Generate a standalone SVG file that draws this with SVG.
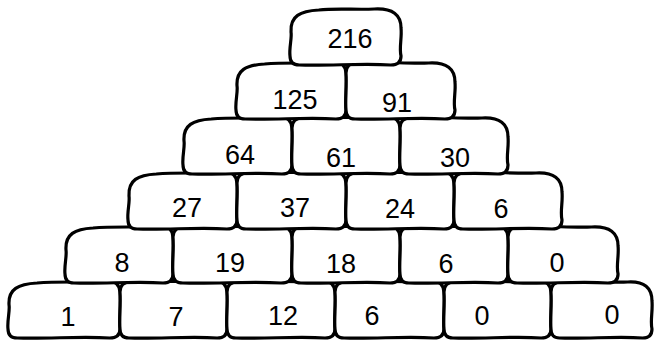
<svg xmlns="http://www.w3.org/2000/svg" xmlns:xlink="http://www.w3.org/1999/xlink" width="654" height="340" viewBox="0 0 654 340">
<style>
.st{fill:#fff;stroke:#000;stroke-width:3.2;stroke-linejoin:round;vector-effect:non-scaling-stroke}
text{font-family:"Liberation Sans",Arial,sans-serif;font-size:27px;fill:#000;text-anchor:middle}
</style>
<defs>
<path id="L" class="st" d="M 0,48 C -1,40 2,30 1,24 C 0,8 10,3 28,2 C 50,0 75,2 97,0 Q 107,0 108,11 C 109,24 107,38 108,48 Q 108,57 98,57 C 70,55 40,58 9,57 Q 0,57 0,48 Z"/>
<path id="M" class="st" d="M 0,48 C -1,38 1,24 0,11 Q 0,1 11,1 C 40,-1 70,2 97,0 Q 107,0 108,11 C 109,24 107,38 108,48 Q 108,57 98,57 C 70,55 40,58 9,57 Q 0,57 0,48 Z"/>
<path id="R" class="st" d="M 0,48 C -1,38 1,24 0,11 Q 0,1 11,1 C 35,-1 60,2 82,1 C 100,0 108,7 108,20 C 109,30 106,40 108,48 Q 108,57 98,57 C 70,55 40,58 9,57 Q 0,57 0,48 Z"/>
<path id="S" class="st" d="M 0,48 C -1,40 2,30 1,24 C 0,8 10,3 28,2 C 45,0 65,2 82,1 C 100,0 108,7 108,20 C 109,30 106,40 108,48 Q 108,57 98,57 C 70,55 40,58 9,57 Q 0,57 0,48 Z"/>
</defs>
<!-- row 6 -->
<g id="r6a"><use href="#L" transform="translate(8,281) scale(1.037,1)"/><text x="68" y="326">1</text></g>
<g id="r6b"><use href="#M" transform="translate(120,281) scale(0.991,1)"/><text x="176" y="326">7</text></g>
<g id="r6c"><use href="#M" transform="translate(227,281) scale(1,1)"/><text x="283" y="325">12</text></g>
<g id="r6d"><use href="#M" transform="translate(335,281) scale(1.009,1)"/><text x="372" y="325">6</text></g>
<g id="r6e"><use href="#M" transform="translate(444,281) scale(0.991,1)"/><text x="482" y="325">0</text></g>
<g id="r6f"><use href="#R" transform="translate(551,281) scale(0.935,1)"/><text x="612" y="324">0</text></g>
<!-- row 5 -->
<g id="r5a"><use href="#L" transform="translate(65,226) scale(1,1)"/><text x="122" y="272">8</text></g>
<g id="r5b"><use href="#M" transform="translate(173,226) scale(1.102,1)"/><text x="230" y="272">19</text></g>
<g id="r5c"><use href="#M" transform="translate(292,226) scale(1,1)"/><text x="341" y="273">18</text></g>
<g id="r5d"><use href="#M" transform="translate(400,226) scale(1,1)"/><text x="446" y="273">6</text></g>
<g id="r5e"><use href="#R" transform="translate(508,226) scale(1.019,1)"/><text x="557" y="272">0</text></g>
<!-- row 4 -->
<g id="r4a"><use href="#L" transform="translate(128,172) scale(1.009,1)"/><text x="187" y="217">27</text></g>
<g id="r4b"><use href="#M" transform="translate(237,172) scale(1.009,1)"/><text x="295" y="217">37</text></g>
<g id="r4c"><use href="#M" transform="translate(346,172) scale(1,1)"/><text x="400" y="218">24</text></g>
<g id="r4d"><use href="#R" transform="translate(454,172) scale(1,1)"/><text x="501" y="218">6</text></g>
<!-- row 3 -->
<g id="r3a"><use href="#L" transform="translate(183,117) scale(1.009,1)"/><text x="240" y="164">64</text></g>
<g id="r3b"><use href="#M" transform="translate(292,117) scale(1,1)"/><text x="341" y="167">61</text></g>
<g id="r3c"><use href="#R" transform="translate(400,117) scale(1,1)"/><text x="455" y="167">30</text></g>
<!-- row 2 -->
<g id="r2a"><use href="#L" transform="translate(236,62) scale(1.019,1)"/><text x="295" y="109">125</text></g>
<g id="r2b"><use href="#R" transform="translate(346,62) scale(1.009,1)"/><text x="397" y="112">91</text></g>
<!-- row 1 -->
<g id="r1a"><use href="#S" transform="translate(290,8) scale(1.028,1)"/><text x="350" y="48">216</text></g>
</svg>
